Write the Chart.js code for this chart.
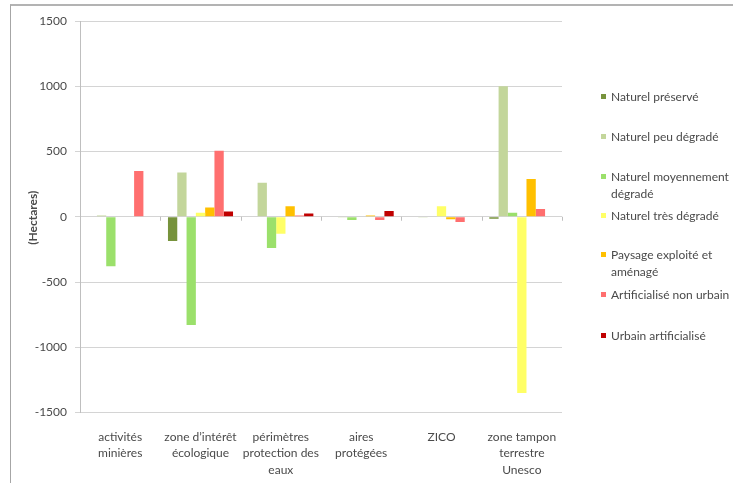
<!DOCTYPE html>
<html lang="fr">
<head>
<meta charset="utf-8">
<title>Évolution des surfaces par type de zone</title>
<script src="https://cdn.jsdelivr.net/npm/chart.js@4.4.1/dist/chart.umd.min.js"></script>
<style>
  html, body { margin: 0; padding: 0; background: #fff; }
  #wrap { position: relative; width: 733px; height: 483px; overflow: hidden; }
  #frame { position: absolute; left: 10px; top: 4px; width: 740px; height: 500px;
           border-top: 2px solid #b3b3b3; border-left: 1px solid #a6a6a6; }
  canvas { position: absolute; left: 0; top: 0; }
  #legend { position: absolute; left: 0; top: 0; font-family: Lato, "Open Sans", sans-serif;
            font-size: 12px; color: #4a4a4a; }
  .item { position: absolute; left: 611px; line-height: 17px; white-space: nowrap; }
  .sw { position: absolute; left: -10px; top: 6px; width: 5px; height: 5px; }
</style>
</head>
<body>
<div id="wrap">
  <div id="frame"></div>
  <canvas id="chart" width="733" height="483"></canvas>
  <div id="legend"></div>
</div>
<script>
// Zones (categories along the x axis)
const categories = [
  ["activités", "minières"],
  ["zone d’intérêt", "écologique"],
  ["périmètres", "protection des", "eaux"],
  ["aires", "protégées"],
  ["ZICO"],
  ["zone tampon", "terrestre", "Unesco"]
];

// Series names
const seriesNames = [
  "Naturel préservé",
  "Naturel peu dégradé",
  "Naturel moyennement dégradé",
  "Naturel très dégradé",
  "Paysage exploité et aménagé",
  "Artificialisé non urbain",
  "Urbain artificialisé"
];

// Change in area (hectares) for each series, one value per zone
const naturelPreserve   = [0, -185, 0, 0, 0, -15];
const naturelPeuDegrade = [10, 340, 260, -5, -5, 1000];
const naturelMoyenDegr  = [-380, -830, -240, -25, 0, 30];
const naturelTresDegr   = [0, 30, -130, 0, 80, -1350];
const paysageExploite   = [0, 70, 80, 10, -20, 290];
const artifNonUrbain    = [350, 505, 10, -25, -40, 60];
const urbainArtif       = [0, 40, 25, 45, 0, 0];

// Value axis ticks
const yTicks = [-1500, -1000, -500, 0, 500, 1000, 1500];

const seriesValues = [naturelPreserve, naturelPeuDegrade, naturelMoyenDegr,
  naturelTresDegr, paysageExploite, artifNonUrbain, urbainArtif];
const seriesColors = ["#77933C", "#C3D69B", "#9BE06B", "#FFFF66",
  "#FFC000", "#FF6F6F", "#C00000"];

const textColor = "#4a4a4a";
const fontFamily = "Lato, 'Open Sans', sans-serif";

// HTML legend on the right
const legendLayout = [
  { top: 88,  lines: ["Naturel préservé"] },
  { top: 128, lines: ["Naturel peu dégradé"] },
  { top: 168, lines: ["Naturel moyennement", "dégradé"] },
  { top: 207, lines: ["Naturel très dégradé"] },
  { top: 246, lines: ["Paysage exploité et", "aménagé"] },
  { top: 286, lines: ["Artificialisé non urbain"] },
  { top: 327, lines: ["Urbain artificialisé"] }
];
const legendEl = document.getElementById("legend");
legendLayout.forEach((it, i) => {
  const d = document.createElement("div");
  d.className = "item";
  d.style.top = it.top + "px";
  const sw = document.createElement("span");
  sw.className = "sw";
  sw.style.background = seriesColors[i];
  d.appendChild(sw);
  it.lines.forEach((l, k) => {
    if (k) d.appendChild(document.createElement("br"));
    d.appendChild(document.createTextNode(l));
  });
  legendEl.appendChild(d);
});

// Category separators on the zero line and the rotated axis title
const extras = {
  id: "extras",
  afterDatasetsDraw(chart) {
    const { ctx, scales: { x, y } } = chart;
    const y0 = y.getPixelForValue(0);
    const half = (x.getPixelForValue(1) - x.getPixelForValue(0)) / 2;
    ctx.save();
    ctx.strokeStyle = "#bfbfbf";
    ctx.lineWidth = 1;
    ctx.beginPath();
    for (let i = 0; i <= categories.length; i++) {
      const px = Math.round(x.getPixelForValue(i) - half) + 0.5;
      ctx.moveTo(px, y0);
      ctx.lineTo(px, y0 + 4);
    }
    ctx.stroke();
    ctx.restore();
  },
  afterDraw(chart) {
    const { ctx, scales: { y } } = chart;
    ctx.save();
    ctx.translate(33, (y.top + y.bottom) / 2 + 1);
    ctx.rotate(-Math.PI / 2);
    ctx.font = "bold 12px " + fontFamily;
    ctx.fillStyle = textColor;
    ctx.textAlign = "center";
    ctx.textBaseline = "middle";
    ctx.fillText("(Hectares)", 0, 0);
    ctx.restore();
  }
};

new Chart(document.getElementById("chart"), {
  type: "bar",
  data: {
    labels: categories,
    datasets: seriesNames.map((name, i) => ({
      label: name,
      data: seriesValues[i],
      backgroundColor: seriesColors[i],
      borderWidth: 0,
      categoryPercentage: 0.81,
      barPercentage: 1
    }))
  },
  options: {
    responsive: false,
    animation: false,
    devicePixelRatio: 1,
    layout: { padding: { left: 0, right: 171, top: 21, bottom: 0 } },
    plugins: { legend: { display: false }, tooltip: { enabled: false } },
    scales: {
      x: {
        grid: { display: false },
        border: { display: false },
        ticks: {
          color: textColor,
          padding: 8,
          maxRotation: 0,
          autoSkip: false,
          font: { family: fontFamily, size: 12, lineHeight: 1.38 }
        },
        afterFit(s) { s.height = 70.5; }
      },
      y: {
        min: -1500,
        max: 1500,
        afterBuildTicks(s) { s.ticks = yTicks.map(v => ({ value: v })); },
        grid: { color: "#d4d4d4", tickLength: 5, lineWidth: 1 },
        border: { color: "#bfbfbf" },
        ticks: {
          color: textColor,
          padding: 8,
          callback: v => String(v),
          font: { family: fontFamily, size: 12 }
        },
        afterFit(s) { s.width = 80; }
      }
    }
  },
  plugins: [extras]
});
</script>
</body>
</html>
